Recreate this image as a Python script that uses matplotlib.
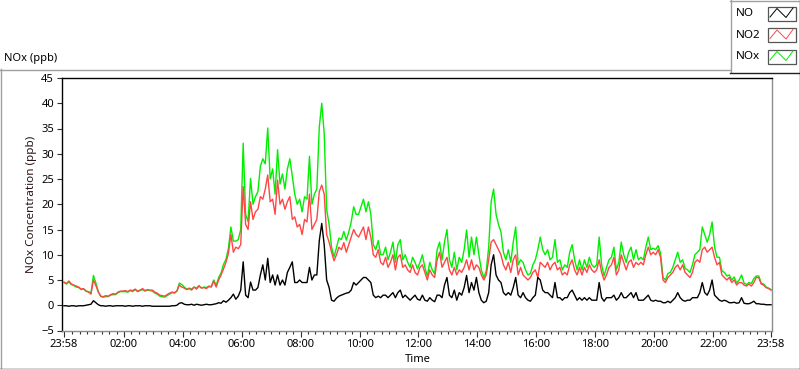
import numpy as np
import matplotlib
matplotlib.use('Agg')
import matplotlib.pyplot as plt

plt.rcParams['font.family'] = ['Noto Sans', 'DejaVu Sans']
plt.rcParams['font.size'] = 8

# samples every 5 minutes, counted from 23:58 (one row = about one hour)
minutes = np.arange(0, 1441, 5)

no = [
    -0.1, -0.1, -0.2, -0.1, -0.1, -0.2, -0.1, -0.1, -0.1, 0.0, 0.1, 0.2,
    0.9, 0.5, 0.1, -0.1, -0.1, -0.2, -0.1, -0.1, -0.2, -0.1, -0.1, -0.1,
    -0.1, -0.2, -0.1, -0.1, -0.2, -0.1, -0.1, -0.1, -0.2, -0.1, -0.1, -0.1,
    -0.2, -0.2, -0.2, -0.2, -0.2, -0.2, -0.2, -0.2, -0.1, -0.1, 0.0, 0.4,
    0.5, 0.2, 0.1, 0.1, 0.2, 0.0, 0.2, 0.1, 0.0, 0.1, 0.2, 0.1,
    0.1, 0.2, 0.3, 0.5, 0.4, 0.9, 0.6, 1.0, 1.5, 2.2, 1.2, 1.8,
    3.0, 8.6, 2.0, 1.5, 4.6, 3.0, 3.0, 3.5, 6.0, 8.0, 5.0, 9.3,
    4.5, 6.0, 4.0, 6.0, 4.0, 5.0, 4.0, 6.5, 7.5, 8.6, 4.5, 4.5,
    5.0, 4.5, 4.5, 4.5, 7.5, 5.0, 6.0, 6.0, 12.8, 16.2, 12.0, 5.0,
    3.5, 1.0, 0.8, 1.4, 1.8, 2.0, 2.2, 2.4, 2.5, 3.0, 4.5, 4.0,
    4.5, 5.0, 5.5, 5.5, 5.0, 4.5, 2.0, 1.5, 1.8, 1.5, 2.0, 2.0,
    1.5, 2.0, 2.5, 1.5, 2.5, 3.0, 1.5, 2.0, 1.5, 1.0, 1.5, 2.0,
    1.2, 1.0, 2.0, 1.0, 0.8, 1.5, 1.0, 0.7, 2.0, 2.0, 1.5, 4.0,
    5.5, 2.0, 1.5, 3.0, 1.0, 2.5, 2.0, 3.5, 5.9, 2.5, 4.5, 3.0,
    5.5, 2.5, 1.0, 0.5, 0.8, 2.5, 8.0, 10.0, 6.0, 5.0, 4.5, 2.5,
    2.0, 2.5, 2.0, 3.5, 5.5, 2.0, 1.5, 2.5, 1.5, 1.0, 0.8, 1.5,
    2.0, 5.5, 5.0, 3.0, 2.5, 2.5, 2.0, 1.5, 4.5, 1.5, 1.5, 1.0,
    1.5, 1.5, 2.5, 3.0, 2.0, 1.0, 1.5, 1.0, 1.5, 1.0, 1.5, 1.0,
    1.0, 1.0, 4.5, 1.5, 0.8, 1.5, 1.5, 1.5, 2.0, 1.0, 1.5, 2.5,
    1.5, 1.5, 2.0, 2.5, 1.5, 2.5, 1.0, 1.0, 1.0, 1.5, 2.0, 1.0,
    0.8, 1.0, 0.8, 0.8, 0.5, 0.5, 0.8, 0.5, 1.0, 1.5, 2.5, 1.5,
    1.0, 0.8, 1.0, 1.0, 1.5, 1.5, 1.5, 2.5, 4.5, 2.5, 2.0, 3.0,
    5.0, 2.0, 1.5, 1.0, 0.8, 1.0, 0.8, 0.5, 0.5, 0.6, 0.4, 0.5,
    1.5, 0.4, 0.3, 0.3, 0.5, 0.8, 0.3, 0.3, 0.2, 0.2, 0.1, 0.1,
    0.1,
]

no2 = [
    4.6, 4.3, 4.8, 4.2, 4.0, 3.8, 3.6, 3.2, 3.3, 2.8, 2.6, 2.2,
    5.0, 3.9, 2.6, 1.8, 1.7, 1.9, 1.8, 2.1, 2.3, 2.2, 2.6, 2.8,
    2.8, 2.9, 2.7, 3.0, 2.9, 3.2, 2.8, 3.0, 3.3, 2.9, 3.1, 3.0,
    3.0, 2.6, 2.4, 2.0, 1.9, 1.8, 2.1, 2.4, 2.6, 2.5, 2.8, 4.0,
    3.6, 3.4, 3.1, 3.3, 3.0, 3.6, 3.2, 3.8, 3.4, 3.5, 3.3, 3.7,
    3.6, 4.8, 3.6, 5.0, 6.0, 7.2, 8.5, 10.3, 14.0, 10.5, 11.5, 11.2,
    12.0, 23.5, 16.0, 15.0, 20.5, 17.0, 18.5, 19.0, 21.5, 21.0, 23.0, 25.8,
    20.5, 21.0, 18.0, 24.8, 20.0, 21.0, 19.0, 20.5, 21.5, 17.0, 17.5, 15.5,
    16.0, 14.0, 17.0, 16.5, 22.0, 15.0, 16.0, 17.0, 22.5, 23.8, 22.0, 14.0,
    12.5, 10.5, 8.8, 10.0, 11.5, 11.0, 12.4, 10.5, 12.0, 13.5, 15.0, 14.0,
    13.5, 14.5, 15.5, 13.0, 15.5, 13.5, 10.0, 9.5, 11.0, 8.5, 8.0, 9.5,
    7.5, 8.5, 10.0, 7.0, 9.5, 10.0, 7.5, 8.0, 7.0, 6.5, 8.0, 6.5,
    6.0, 7.5, 8.0, 6.5, 5.0, 7.0, 6.0, 5.5, 9.0, 10.5, 7.5, 8.5,
    9.5, 7.0, 6.0, 7.5, 6.0, 7.0, 6.5, 7.5, 9.0, 7.0, 9.0, 7.0,
    8.0, 7.5, 6.0, 5.0, 6.0, 9.0, 12.5, 13.0, 12.0, 11.0, 10.0, 8.0,
    7.0, 8.5, 6.5, 9.0, 10.0, 6.0, 7.5, 6.0, 5.5, 5.0, 5.5, 6.5,
    7.0, 5.5, 8.5, 8.0, 7.5, 8.5, 7.0, 8.0, 8.5, 7.0, 7.5, 6.0,
    6.5, 6.0, 8.0, 9.0, 7.0, 6.0, 7.5, 6.0, 7.5, 6.5, 8.0, 7.0,
    6.5, 7.0, 9.0, 6.5, 5.0, 6.0, 7.5, 8.0, 9.5, 6.0, 7.0, 10.0,
    8.5, 7.0, 8.5, 9.0, 7.5, 8.5, 8.0, 8.5, 8.0, 10.0, 11.5, 10.0,
    10.5, 10.0, 11.0, 9.5, 5.0, 4.5, 5.5, 6.0, 6.5, 7.5, 8.0, 7.0,
    8.0, 6.5, 6.0, 5.5, 6.5, 8.5, 9.0, 8.5, 11.0, 11.5, 10.5, 11.0,
    11.5, 9.5, 8.0, 8.5, 6.0, 5.5, 5.0, 5.5, 4.5, 5.0, 4.0, 4.5,
    4.5, 4.0, 3.8, 4.2, 3.8, 4.5, 5.5, 5.5, 4.2, 4.0, 3.5, 3.3,
    3.0,
]

nox = np.array(no) + np.array(no2)

major_ticks = [0, 122, 242, 362, 482, 602, 722, 842, 962, 1082, 1202, 1322, 1440]
major_labels = ['23:58', '02:00', '04:00', '06:00', '08:00', '10:00', '12:00',
                '14:00', '16:00', '18:00', '20:00', '22:00', '23:58']
minor_ticks = [t for t in range(17, 1440, 15) if (t - 2) % 120 != 0]

fig = plt.figure(figsize=(8, 3.69), dpi=100)

# frame, legend and captions drawn in pixel coordinates
bg = fig.add_axes([0, 0, 1, 1], zorder=0)
bg.set_xlim(0, 800)
bg.set_ylim(369, 0)
bg.axis('off')
gray = '#a0a0a0'
bg.plot([0, 730], [69.5, 69.5], color=gray, lw=1)
bg.plot([0.5, 0.5], [69, 369], color=gray, lw=1)
bg.plot([0, 800], [368.5, 368.5], color='#202020', lw=1)
bg.plot([799.5, 799.5], [0, 369], color='#202020', lw=1)
bg.plot([730.5, 730.5], [0, 72], color=gray, lw=1)
bg.plot([730, 800], [0.5, 0.5], color=gray, lw=1)
bg.plot([730, 800], [72.5, 72.5], color='#202020', lw=1)

legend_names = ['NO', 'NO2', 'NOx']
legend_colors = ['black', '#ff4646', '#00ee00']
for k, (name, col) in enumerate(zip(legend_names, legend_colors)):
    yc = 13.5 + 21.5 * k
    bg.text(735.5, yc, name, ha='left', va='center', fontsize=8.4, color='black')
    bg.add_patch(plt.Rectangle((767.5, yc - 7), 28, 14, fc='white', ec='#555555', lw=0.9))
    bg.plot([770, 777, 786, 793], [yc + 3.5, yc - 5, yc + 4, yc - 5.5], color=col, lw=0.7)

fig.text(4 / 800, 1 - 58 / 369, 'NOx (ppb)', ha='left', va='center', color='black')
fig.text(31.5 / 800, 1 - 204 / 369, 'NOx Concentration (ppb)', rotation=90,
         ha='center', va='center', color='#2a1414', fontsize=8.4)
fig.text(418 / 800, 1 - 360 / 369, 'Time', ha='center', va='center', color='black')

ax = fig.add_axes([62 / 800, 1 - 330.5 / 369, 710 / 800, 252.5 / 369], zorder=1)
ax.plot(minutes, nox, color='#00ee00', lw=1.0, zorder=2)
ax.plot(minutes, no2, color='#ff4646', lw=1.0, zorder=3)
ax.plot(minutes, no, color='black', lw=1.0, zorder=4)

ax.set_xlim(-4, 1442)
ax.set_ylim(-5, 45)
ax.set_yticks(range(-5, 46, 5))
ax.set_xticks(major_ticks, major_labels)
ax.set_xticks(minor_ticks, minor=True)
ax.tick_params(axis='both', labelcolor='black')
ax.tick_params(axis='y', direction='out', length=3.8, width=0.8, pad=2, color='#303030')
ax.tick_params(axis='x', which='major', direction='out', length=4.5, width=0.8, pad=1.5, color='#303030')
ax.tick_params(axis='x', which='minor', direction='out', length=2.2, width=0.8, color='#303030')

for side in ['top', 'left']:
    ax.spines[side].set_color('black')
    ax.spines[side].set_linewidth(1.0)
for side in ['bottom', 'right']:
    ax.spines[side].set_color('#8c8c8c')
    ax.spines[side].set_linewidth(1.0)

fig.savefig('out.png', dpi=100)
